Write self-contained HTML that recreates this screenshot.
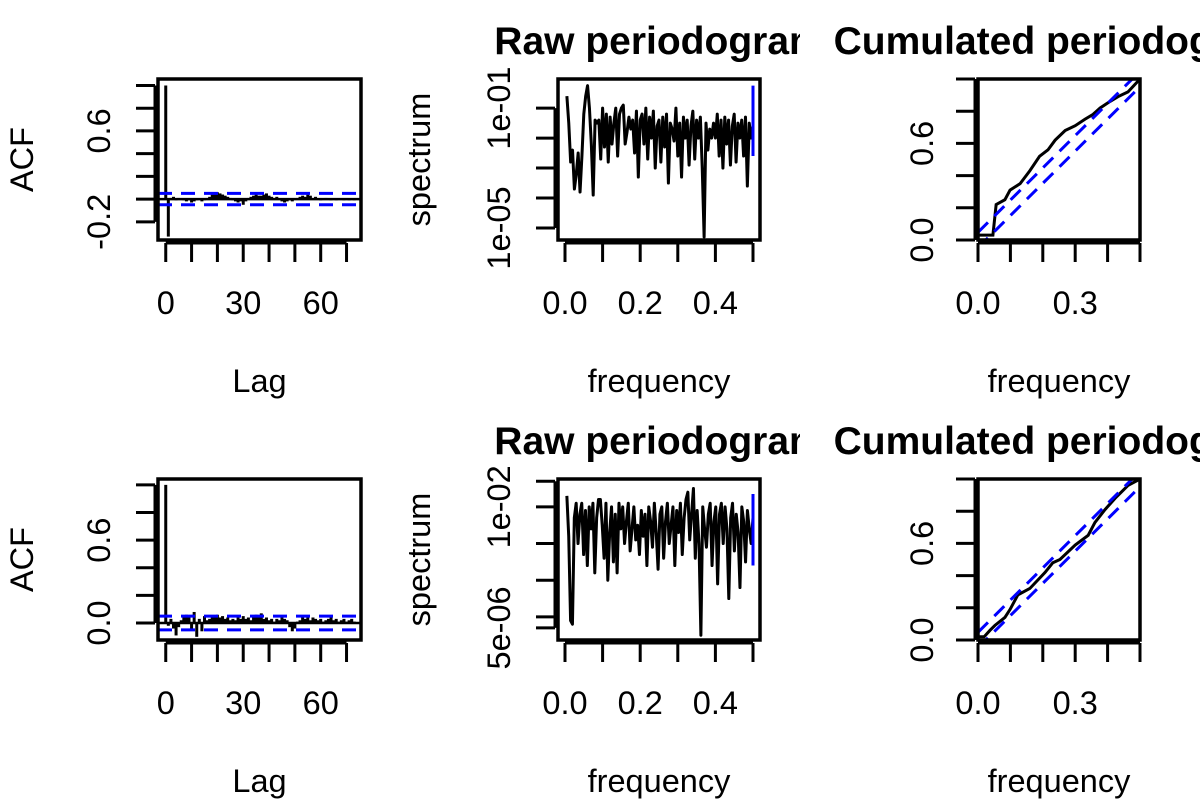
<!DOCTYPE html>
<html><head><meta charset="utf-8"><style>
body{margin:0;background:#fff;}
svg{display:block;font-family:"Liberation Sans",Arial,sans-serif;}
</style></head><body>
<svg id="chart" width="1200" height="800" viewBox="0 0 1200 800" xmlns="http://www.w3.org/2000/svg">
<defs>
<clipPath id="c0"><rect x="0" y="0" width="400" height="400"/></clipPath>
<clipPath id="c1"><rect x="400" y="0" width="400" height="400"/></clipPath>
<clipPath id="c2"><rect x="800" y="0" width="400" height="400"/></clipPath>
<clipPath id="c3"><rect x="0" y="400" width="400" height="400"/></clipPath>
<clipPath id="c4"><rect x="400" y="400" width="400" height="400"/></clipPath>
<clipPath id="c5"><rect x="800" y="400" width="400" height="400"/></clipPath>
</defs>
</svg>
<script>
const acfTop=[1,-0.33,0.01,0.02,-0.01,0.01,0,-0.01,-0.02,-0.01,-0.03,-0.02,-0.01,0,-0.02,-0.01,0.01,0.02,0.04,0.05,0.06,0.05,0.04,0.03,0.02,0.01,-0.01,-0.02,-0.03,-0.02,-0.05,-0.02,0.01,0.02,0.03,0.04,0.03,0.03,0.04,0.05,0.03,0.02,0.01,0.02,0,-0.02,-0.03,-0.02,-0.01,-0.02,0,0.01,0.02,0.03,0.02,0.04,0.03,0.01,0.02,0,-0.01,0,0.01,0,-0.01,0,-0.01,0,0,-0.01,0,-0.01,0,-0.01];
const acfBot=[1,-0.02,0.03,-0.04,-0.09,-0.03,0.02,0.04,0.06,0.05,-0.05,0.08,-0.1,0.03,-0.06,0.05,0.02,0.03,0.04,0.05,0.06,0.04,0.05,0.03,0.04,0.02,0.03,0.02,0.04,0.03,0.05,0.03,0.04,0.02,0.05,0.06,0.04,0.07,0.03,0.04,0.02,0.03,0.01,0.03,0.02,0.04,0.03,0.02,-0.03,-0.06,-0.04,0.01,0.02,0.04,0.03,0.05,0.02,0.04,0.03,0.02,0.03,0.01,0.02,0.03,0.04,0.02,0.03,0.01,0.02,0.03,0.01,0.02,0.03,0.01];
const acfCI=[0.05,0.05];
const specTopLog=[-0.6,-1.5,-2.8,-2.4,-3.7,-3.2,-2.5,-3.8,-2.6,-1.2,-0.6,-0.25,-1.0,-2.2,-3.9,-1.4,-1.5,-1.4,-2.7,-1.0,-2.3,-1.2,-2.8,-1.3,-2.2,-1.5,-1.0,-2.6,-1.2,-1.0,-0.9,-2.2,-1.8,-1.3,-1.7,-1.4,-2.5,-1.1,-3.3,-1.4,-1.2,-2.2,-1.0,-2.7,-1.3,-2.0,-1.1,-3.0,-1.6,-1.4,-2.8,-1.3,-2.3,-1.2,-3.5,-1.5,-1.7,-2.1,-1.0,-2.6,-1.5,-3.3,-1.3,-2.0,-1.4,-2.9,-1.6,-1.1,-2.7,-1.4,-2.0,-1.3,-3.0,-5.3,-1.5,-2.4,-1.7,-2.0,-1.5,-2.0,-1.2,-2.6,-1.4,-3.0,-1.3,-2.2,-1.4,-2.9,-1.6,-1.2,-2.8,-1.5,-2.0,-1.4,-2.6,-1.3,-3.6,-1.5,-2.0,-1.6];
const specBotLog=[-1.7,-2.8,-5.1,-5.2,-2.3,-1.9,-3.0,-2.2,-1.9,-3.3,-2.1,-3.6,-2.0,-2.6,-1.9,-3.8,-2.3,-1.8,-1.8,-2.5,-3.4,-1.9,-4.0,-2.7,-2.0,-3.5,-2.2,-3.8,-1.9,-2.6,-2.0,-3.0,-2.4,-1.9,-3.2,-2.6,-2.0,-2.9,-2.5,-3.3,-2.1,-2.8,-2.2,-3.6,-2.0,-2.4,-3.1,-1.9,-2.7,-3.7,-2.2,-2.0,-3.4,-2.4,-1.9,-3.0,-2.5,-2.0,-3.6,-2.1,-2.7,-1.9,-3.3,-2.3,-1.8,-1.6,-2.9,-2.2,-1.5,-3.4,-2.1,-3.0,-5.5,-2.0,-2.6,-3.1,-2.2,-1.9,-3.6,-2.4,-2.0,-4.1,-2.2,-1.9,-3.0,-2.0,-2.6,-4.5,-2.3,-1.9,-3.2,-2.2,-2.7,-4.2,-2.0,-2.4,-3.5,-2.1,-2.6,-3.0,-2.3];
const ciTopLog=[-0.25,-2.6];
const ciBotLog=[-1.65,-3.6];
const cumTopF=[0,0.046,0.056,0.083,0.099,0.13,0.16,0.19,0.216,0.238,0.269,0.3,0.33,0.355,0.377,0.407,0.432,0.463,0.5];
const cumTopV=[0.03,0.03,0.22,0.25,0.31,0.35,0.43,0.52,0.56,0.62,0.68,0.71,0.75,0.78,0.82,0.86,0.89,0.92,1.0];
const cumBotF=[0,0.019,0.037,0.052,0.083,0.099,0.123,0.16,0.207,0.231,0.253,0.3,0.34,0.361,0.392,0.423,0.463,0.5];
const cumBotV=[0.02,0.02,0.06,0.09,0.14,0.19,0.28,0.32,0.42,0.48,0.50,0.59,0.65,0.73,0.81,0.88,0.96,1.0];
const cumBand=[0.048,0.048];
const lagTicks=[0,10,20,30,40,50,60,70];
const lagLabels=["0","","","30","","","60",""];
const acfTopTicks=[-0.2,0,0.2,0.4,0.6,0.8,1.0];
const acfTopLabels=["-0.2","","","","0.6","",""];
const acfBotTicks=[0,0.2,0.4,0.6,0.8,1.0];
const acfBotLabels=["0.0","","","0.6","",""];
const freqTicks=[0,0.1,0.2,0.3,0.4,0.5];
const freqLabels=["0.0","","0.2","","0.4",""];
const specTopTicks=[-5,-4,-3,-2,-1];
const specTopLabels=["1e-05","","","","1e-01"];
const specBotTicks=[-5.301,-5,-4,-3,-2,-1.301];
const specBotLabels=["5e-06","","","","1e-02",""];
const cumYTicks=[0,0.2,0.4,0.6,0.8,1.0];
const cumYLabels=["0.0","","","0.6","",""];
const cumXLabels=["0.0","","","0.3","",""];

const svg=document.getElementById('chart');
const NS='http://www.w3.org/2000/svg';
function mk(tag,attrs,parent){const e=document.createElementNS(NS,tag);for(const k in attrs)e.setAttribute(k,attrs[k]);(parent||svg).appendChild(e);return e;}
function lin(d0,d1,r0,r1){return v=>r0+(v-d0)*(r1-r0)/(d1-d0);}

function panel(o){
  const g=mk('g',{'clip-path':'url(#'+o.clip+')'});
  
  
  const {x0,x1,y0,y1}=o.box;
  if(o.title){const t=mk('text',{x:(x0+x1)/2,y:o.dy+54,'font-size':39,'font-weight':'bold','text-anchor':'middle'},g);t.textContent=o.title;
    }
  const xa=mk('g',{},g);
  
  const xt0=o.sx(o.xt[0]),xt1=o.sx(o.xt[o.xt.length-1]);
  mk('line',{x1:xt0,x2:xt1,y1:y1+3,y2:y1+3,stroke:'#000','stroke-width':3},xa);
  o.xt.forEach((v,i)=>{const X=o.sx(v);mk('line',{x1:X,x2:X,y1:y1+3,y2:y1+22,stroke:'#000','stroke-width':3},xa);
    if(o.xl[i]){const t=mk('text',{x:X,y:o.dy+314,'font-size':32.5,'text-anchor':'middle'},xa);t.textContent=o.xl[i];}});
  const xtl=mk('text',{x:(x0+x1)/2,y:o.dy+392,'font-size':32.5,'text-anchor':'middle'},g);xtl.textContent=o.xtitle;
  
  const ya=mk('g',{},g);
  
  const yt0=o.sy(o.yt[0]),yt1=o.sy(o.yt[o.yt.length-1]);
  mk('line',{x1:x0-3,x2:x0-3,y1:yt0,y2:yt1,stroke:'#000','stroke-width':3},ya);
  o.yt.forEach((v,i)=>{const Y=o.sy(v);mk('line',{x1:x0-22,x2:x0-3,y1:Y,y2:Y,stroke:'#000','stroke-width':3},ya);
    if(o.yl[i]){const t=mk('text',{x:0,y:0,'font-size':32.5,'text-anchor':'middle',transform:`translate(${o.ylx},${Y}) rotate(-90)`},ya);t.textContent=o.yl[i];}});
  if(o.ytitle){const t=mk('text',{x:0,y:0,'font-size':32.5,'text-anchor':'middle',transform:`translate(${o.ytx},${(y0+y1)/2}) rotate(-90)`},g);t.textContent=o.ytitle;
    }
  const pc=mk('g',{},g);
  
  o.draw(pc);
  mk('rect',{x:x0,y:y0,width:x1-x0,height:y1-y0,fill:'none',stroke:'#000','stroke-width':3.5},g);
}

function acfPanel(dy,clip,vals,ymin,ymax,yt,yl){
  const sx=lin(-3,75.6,158,361), sy=lin(ymin,ymax,dy+240,dy+79);
  panel({name:'acf-panel',clip,dy,box:{x0:158,x1:361,y0:dy+79,y1:dy+240},sx,sy,xt:lagTicks,xl:lagLabels,yt,yl,xtitle:'Lag',ytitle:'ACF',ylx:110,ytx:33,
    draw(g){
      mk('line',{x1:158,x2:361,y1:sy(0),y2:sy(0),stroke:'#000','stroke-width':2.5},g);
      vals.forEach((v,i)=>{const l=mk('line',{x1:sx(i),x2:sx(i),y1:sy(0),y2:sy(v),stroke:'#000','stroke-width':3},g);
        });
      [acfCI[0],-acfCI[1]].forEach(c=>{const l=mk('line',{x1:158,x2:361,y1:sy(c),y2:sy(c),stroke:'#0000ff','stroke-width':3,'stroke-dasharray':'14 9'},g);
        });
    }});
}
function specPanel(dy,clip,vals,lmin,lmax,yt,yl,ci){
  const sx=lin(0,0.5,565,753), sy=lin(lmin,lmax,dy+240,dy+79);
  panel({name:'raw-periodogram-panel',clip,dy,title:'Raw periodogram',box:{x0:558,x1:760,y0:dy+79,y1:dy+240},sx,sy,xt:freqTicks,xl:freqLabels,yt,yl,xtitle:'frequency',ytitle:'spectrum',ylx:510,ytx:430,
    draw(g){
      const pts=vals.map((v,i)=>sx((i+1)*0.5/vals.length)+','+sy(v)).join(' ');
      const p=mk('polyline',{points:pts,fill:'none',stroke:'#000','stroke-width':3,'stroke-linejoin':'round'},g);
      
      const b=mk('line',{x1:sx(0.5),x2:sx(0.5),y1:sy(ci[0]),y2:sy(ci[1]),stroke:'#0000ff','stroke-width':3},g);
      
    }});
}
function cumPanel(dy,clip,fs,vs){
  const sx=lin(0,0.5,978,1140), sy=lin(0,1,dy+240,dy+79);
  panel({name:'cumulated-periodogram-panel',clip,dy,title:'Cumulated periodogram',box:{x0:978,x1:1140,y0:dy+79,y1:dy+240},sx,sy,xt:freqTicks,xl:cumXLabels,yt:cumYTicks,yl:cumYLabels,xtitle:'frequency',ytitle:null,ylx:933,ytx:0,
    draw(g){
      const p=mk('polyline',{points:fs.map((f,i)=>sx(f)+','+sy(vs[i])).join(' '),fill:'none',stroke:'#000','stroke-width':3},g);
      
      const cp=mk('clipPath',{id:'cb'+dy},svg.querySelector('defs'));mk('rect',{x:978,y:dy+79,width:162,height:161},cp);
      const gc=mk('g',{'clip-path':'url(#cb'+dy+')'},g);
      [cumBand[0],-cumBand[1]].forEach(c=>{const l=mk('line',{x1:sx(0),y1:sy(c),x2:sx(0.5),y2:sy(1+c),stroke:'#0000ff','stroke-width':3,'stroke-dasharray':'14 9'},gc);
        });
    }});
}
acfPanel(0,'c0',acfTop,-0.36,1.057,acfTopTicks,acfTopLabels);
specPanel(0,'c1',specTopLog,-5.4,-0.03,specTopTicks,specTopLabels,ciTopLog);
cumPanel(0,'c2',cumTopF,cumTopV);
acfPanel(400,'c3',acfBot,-0.123,1.043,acfBotTicks,acfBotLabels);
specPanel(400,'c4',specBotLog,-5.63,-1.24,specBotTicks,specBotLabels,ciBotLog);
cumPanel(400,'c5',cumBotF,cumBotV);
</script>
</body></html>
